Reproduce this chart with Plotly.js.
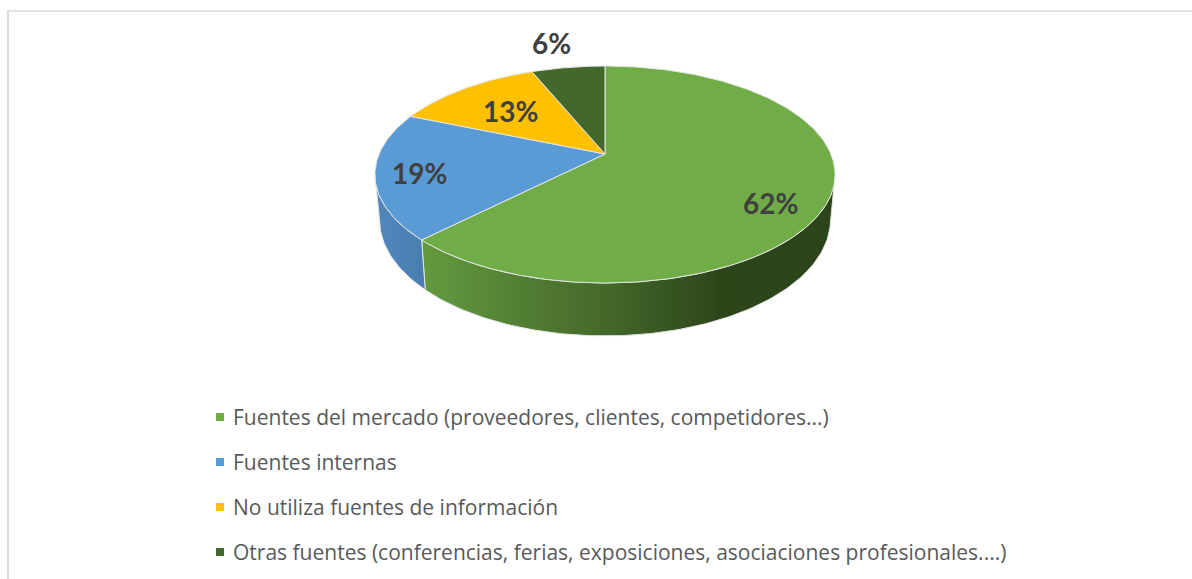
<!DOCTYPE html>
<html>
<head>
<meta charset="utf-8">
<script src="https://cdn.plot.ly/plotly-3.0.1.min.js"></script>
<style>html,body{margin:0;padding:0;background:#fff;overflow:hidden}#chart{width:1192px;height:579px}</style>
</head>
<body>
<div id="chart"></div>
<script>
// Data
var categories = [
  "Fuentes del mercado (proveedores, clientes, competidores...)",
  "Fuentes internas",
  "No utiliza fuentes de información",
  "Otras fuentes (conferencias, ferias, exposiciones, asociaciones profesionales....)"
];
var shares = [62.4, 18.9, 12.5, 6.2];
var colors = ["#70AD47", "#5B9BD5", "#FFC000", "#43682B"];

// Styling / geometry
var wallScales = [
  [[0, "#649A40"], [0.42, "#466B2B"], [0.72, "#2C461A"], [1, "#2B441A"]],
  [[0, "#5087BC"], [0.5, "#4E83B7"], [1, "#4A7CAE"]],
  [[0, "#FFC000"], [1, "#FFC000"]],
  [[0, "#43682B"], [1, "#43682B"]]
];
var labelAnchors = [[770, 203], [419, 173], [510.5, 111], [551, 43]];
var legendMarkerX = 220, legendTextX = 233, legendY = [417, 462, 507, 552];
var W = 1192, H = 579;
var top3d = {cx: 605, cy: 154, a: 225.9, b: 104.6, p: 0.189};
var bot3d = {cx: 605, cy: 197.8, a: 221.4, b: 112, p: 0.189};
var edge = "#E4E4E4";

function project(plane, deg) {
  var t = deg * Math.PI / 180, u = Math.sin(t), v = Math.cos(t), d = 1 + plane.p * v;
  return [plane.cx + plane.a * u / d, plane.cy - plane.b * v / d];
}
function arc(plane, from, to) {
  var pts = [], n = Math.max(2, Math.ceil(Math.abs(to - from)));
  for (var i = 0; i <= n; i++) pts.push(project(plane, from + (to - from) * i / n));
  return pts;
}
function polyTrace(pts, extra) {
  var tr = {
    type: "scatter", mode: "lines", fill: "toself", showlegend: false, hoverinfo: "skip",
    x: pts.map(function (q) { return q[0]; }), y: pts.map(function (q) { return q[1]; })
  };
  for (var k in extra) tr[k] = extra[k];
  return tr;
}

var total = shares.reduce(function (s, v) { return s + v; }, 0);
var visFrom = 100.9, visTo = 259.1; // front part of the rim that can be seen
var traces = [], walls = [], faces = [], start = 0;
shares.forEach(function (val, i) {
  var end = start + val / total * 360;
  var a0 = Math.max(start, visFrom), a1 = Math.min(end, visTo);
  if (a1 > a0) {
    var pts = arc(top3d, a0, a1).concat(arc(bot3d, a1, a0));
    pts.push(pts[0]);
    walls.push(polyTrace(pts, {
      line: {color: edge, width: 1},
      fillcolor: colors[i],
      fillgradient: {type: "horizontal", colorscale: wallScales[i]}
    }));
  }
  var face = [[top3d.cx, top3d.cy]].concat(arc(top3d, start, end));
  face.push([top3d.cx, top3d.cy]);
  faces.push(polyTrace(face, {
    line: {color: edge, width: 1},
    fillcolor: colors[i],
    name: categories[i],
    hoverinfo: "name"
  }));
  start = end;
});
traces = walls.concat(faces);

// Legend drawn as marker rows with text annotations
categories.forEach(function (c, i) {
  traces.push({
    type: "scatter", mode: "markers", showlegend: false, hoverinfo: "skip",
    x: [legendMarkerX], y: [legendY[i]],
    marker: {symbol: "square", size: 8, color: colors[i]}
  });
});

var annotations = shares.map(function (v, i) {
  return {
    x: labelAnchors[i][0], y: labelAnchors[i][1], xref: "x", yref: "y",
    text: Math.round(v) + "%", showarrow: false, xanchor: "center", yanchor: "middle",
    font: {family: "Lato, 'Open Sans', sans-serif", size: 28, weight: 700, color: "#404040"}
  };
}).concat(categories.map(function (c, i) {
  return {
    x: legendTextX, y: legendY[i], xref: "x", yref: "y", text: c, showarrow: false,
    xanchor: "left", yanchor: "middle", borderpad: 0, borderwidth: 0,
    font: {family: "'Open Sans', sans-serif", size: 21, color: "#595959"}
  };
}));

var layout = {
  width: W, height: H,
  margin: {l: 0, r: 0, t: 0, b: 0},
  paper_bgcolor: "#fff", plot_bgcolor: "#fff",
  showlegend: false,
  xaxis: {range: [0, W], visible: false, fixedrange: true},
  yaxis: {range: [H, 0], visible: false, fixedrange: true},
  annotations: annotations,
  shapes: [
    {type: "line", xref: "x", yref: "y", x0: 8, x1: 8, y0: 10, y1: H, line: {color: "#D9D9D9", width: 2}},
    {type: "line", xref: "x", yref: "y", x0: 7, x1: W, y0: 11, y1: 11, line: {color: "#D9D9D9", width: 1.5}}
  ]
};
Plotly.newPlot("chart", traces, layout, {displayModeBar: false, staticPlot: true});
</script>
</body>
</html>
